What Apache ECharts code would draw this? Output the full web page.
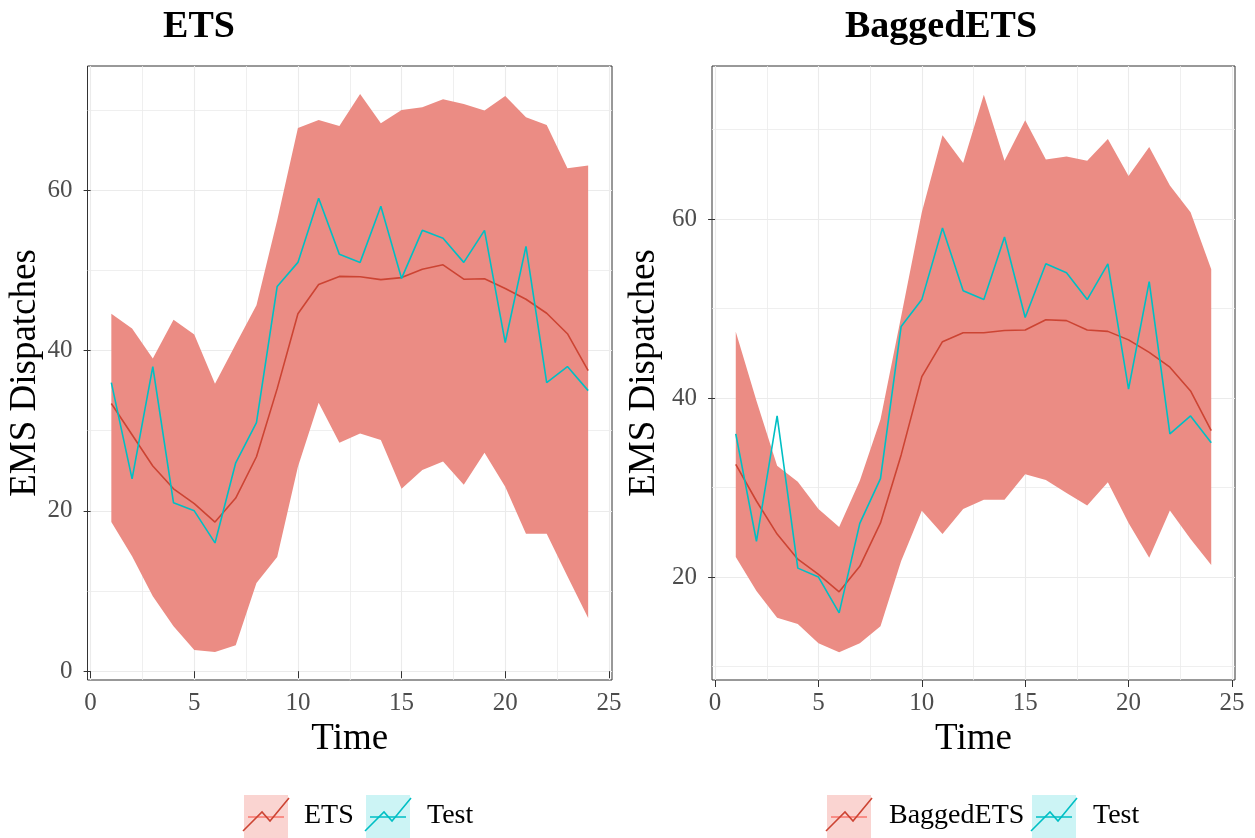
<!DOCTYPE html>
<html>
<head>
<meta charset="utf-8">
<script src="https://cdn.jsdelivr.net/npm/echarts@6/dist/echarts.min.js"></script>
<style>
  html, body { margin: 0; padding: 0; background: #fff; }
  #main { width: 1255px; height: 838px; }
</style>
</head>
<body>
<div id="main"></div>
<script>
// forecast horizon
var times = [1,2,3,4,5,6,7,8,9,10,11,12,13,14,15,16,17,18,19,20,21,22,23,24];

// observed test values (same in both panels)
var testVals = [36,24,38,21,20,16,26,31,48,51,59,52,51,58,49,55,54,51,55,41,53,36,38,35];

// ETS forecast + interval
var etsMean  = [33.4,29.5,25.6,22.75,20.9,18.6,21.6,26.75,35.25,44.6,48.25,49.25,49.2,48.85,49.1,50.15,50.7,48.9,48.95,47.75,46.4,44.65,42.1,37.5];
var etsLower = [18.6,14.35,9.35,5.6,2.65,2.4,3.25,11.0,14.25,25.5,33.5,28.5,29.65,28.85,22.75,25.1,26.15,23.25,27.25,23.0,17.15,17.15,11.85,6.65];
var etsUpper = [44.6,42.75,39.0,43.85,42.0,35.85,40.8,45.65,56.25,67.75,68.75,68.0,72.0,68.35,70.0,70.35,71.35,70.75,69.95,71.75,69.1,68.15,62.75,63.1];

// BaggedETS forecast + interval
var bagMean  = [32.6,28.5,24.8,22.0,20.3,18.35,21.2,26.05,33.65,42.4,46.3,47.3,47.3,47.55,47.6,48.75,48.65,47.6,47.45,46.5,45.1,43.45,40.8,36.35];
var bagLower = [22.25,18.45,15.45,14.75,12.6,11.6,12.6,14.5,21.8,27.4,24.8,27.6,28.65,28.65,31.5,30.85,29.4,28.0,30.6,26.05,22.15,27.45,24.25,21.35];
var bagUpper = [47.4,39.7,32.45,30.66,27.6,25.6,30.75,37.6,49.1,60.75,69.35,66.25,73.9,66.5,71.05,66.65,67.0,66.5,68.95,64.8,68.05,63.75,60.75,54.4];

// tick labels
var xTicks = [0,5,10,15,20,25];
var xMinor = [2.5,7.5,12.5,17.5,22.5];
var etsYTicks = [0,20,40,60];
var etsYMinor = [10,30,50,70];
var bagYTicks = [20,40,60];
var bagYMinor = [10,30,50,70];

var FONT = '"Liberation Serif", "DejaVu Serif", serif';
var BAND = '#EB8C84';
var MEAN = '#CC4433';
var TEST = '#00BFC4';
var GRIDC = '#EBEBEB';

var chart = echarts.init(document.getElementById('main'));

function majorX(gi) {
  return {
    type: 'value', gridIndex: gi, min: -0.15, max: 25.15,
    name: 'Time', nameLocation: 'middle', nameGap: 31,
    nameTextStyle: { fontFamily: FONT, fontSize: 37, color: '#000' },
    axisLine: { show: false },
    axisTick: { show: true, length: 7, customValues: xTicks, lineStyle: { color: '#333', width: 1 } },
    axisLabel: { customValues: xTicks, margin: 11, fontFamily: FONT, fontSize: 25, color: '#4D4D4D' },
    splitLine: { show: true, customValues: xTicks, lineStyle: { color: GRIDC, width: 1.1 } },
    z: 1
  };
}
function minorX(gi) {
  return {
    type: 'value', gridIndex: gi, min: -0.15, max: 25.15,
    axisLine: { show: false },
    axisTick: { show: false, customValues: xMinor },
    axisLabel: { show: false, customValues: xMinor },
    splitLine: { show: true, customValues: xMinor, lineStyle: { color: GRIDC, width: 0.8 } },
    z: 0
  };
}
function majorY(gi, lo, hi, ticks, gap) {
  return {
    type: 'value', gridIndex: gi, min: lo, max: hi,
    name: 'EMS Dispatches', nameLocation: 'middle', nameGap: gap,
    nameTextStyle: { fontFamily: FONT, fontSize: 37, color: '#000' },
    axisLine: { show: false },
    axisTick: { show: true, length: 7, customValues: ticks, lineStyle: { color: '#333', width: 1 } },
    axisLabel: { customValues: ticks, margin: 15, fontFamily: FONT, fontSize: 25, color: '#4D4D4D' },
    splitLine: { show: true, customValues: ticks, lineStyle: { color: GRIDC, width: 1.1 } },
    z: 1
  };
}
function minorY(gi, lo, hi, ticks) {
  return {
    type: 'value', gridIndex: gi, min: lo, max: hi,
    axisLine: { show: false },
    axisTick: { show: false, customValues: ticks },
    axisLabel: { show: false, customValues: ticks },
    splitLine: { show: true, customValues: ticks, lineStyle: { color: GRIDC, width: 0.8 } },
    z: 0
  };
}

function band(xi, yi, lower, upper) {
  return {
    type: 'custom', xAxisIndex: xi, yAxisIndex: yi, silent: true, clip: true, z: 2,
    data: times.map(function (t, i) { return [t, lower[i], upper[i]]; }),
    encode: { x: 0, y: [1, 2] },
    renderItem: function (params, api) {
      if (params.dataIndex !== 0) return;
      var pts = [];
      for (var i = 0; i < times.length; i++) pts.push(api.coord([times[i], upper[i]]));
      for (var j = times.length - 1; j >= 0; j--) pts.push(api.coord([times[j], lower[j]]));
      return { type: 'polygon', shape: { points: pts }, style: { fill: BAND } };
    }
  };
}
function line(xi, yi, vals, color, z) {
  return {
    type: 'line', xAxisIndex: xi, yAxisIndex: yi, z: z,
    data: times.map(function (t, i) { return [t, vals[i]]; }),
    showSymbol: false, silent: true, animation: false,
    lineStyle: { color: color, width: 1.6 }
  };
}

// legend keys (ggplot style boxes with zigzag)
function legendKey(x, y, fill, flat, zig, label, tx) {
  return [
    { type: 'rect', shape: { x: x, y: y, width: 44, height: 44 }, style: { fill: fill } },
    { type: 'line', shape: { x1: x + 4, y1: y + 22, x2: x + 40, y2: y + 22 }, style: { stroke: flat, lineWidth: 1.6 } },
    { type: 'polyline', shape: { points: [[x - 1, y + 36], [x + 18, y + 17], [x + 26, y + 26], [x + 45, y + 3]] },
      style: { stroke: zig, lineWidth: 1.6, fill: null } },
    { type: 'text', x: tx, y: y + 21, style: { text: label, font: '28px ' + FONT, fill: '#000', verticalAlign: 'middle' } }
  ];
}

var graphics = []
  .concat(legendKey(244, 795, '#FAD4D1', '#F8766D', MEAN, 'ETS', 304))
  .concat(legendKey(366, 795, '#CCF4F5', TEST, TEST, 'Test', 427))
  .concat(legendKey(827, 795, '#FAD4D1', '#F8766D', MEAN, 'BaggedETS', 889))
  .concat(legendKey(1032, 795, '#CCF4F5', TEST, TEST, 'Test', 1093));

var option = {
  animation: false,
  backgroundColor: '#fff',
  title: [
    { text: 'ETS', left: 194, top: 3, textAlign: 'center',
      textStyle: { fontFamily: FONT, fontSize: 38, fontWeight: 'bold', color: '#000' } },
    { text: 'BaggedETS', left: 936, top: 3, textAlign: 'center',
      textStyle: { fontFamily: FONT, fontSize: 38, fontWeight: 'bold', color: '#000' } }
  ],
  grid: [
    { left: 87.5, top: 66, width: 524.5, height: 614, show: true, borderColor: '#333', borderWidth: 1,
      backgroundColor: '#fff', outerBoundsMode: 'none' },
    { left: 712, top: 66, width: 523, height: 614, show: true, borderColor: '#333', borderWidth: 1,
      backgroundColor: '#fff', outerBoundsMode: 'none' }
  ],
  xAxis: [ majorX(0), minorX(0), majorX(1), minorX(1) ],
  yAxis: [
    majorY(0, -1.1, 75.5, etsYTicks, 44), minorY(0, -1.1, 75.5, etsYMinor),
    majorY(1, 8.5, 77.1, bagYTicks, 49), minorY(1, 8.5, 77.1, bagYMinor)
  ],
  series: [
    band(0, 0, etsLower, etsUpper),
    line(0, 0, etsMean, MEAN, 3),
    line(0, 0, testVals, TEST, 4),
    band(2, 2, bagLower, bagUpper),
    line(2, 2, bagMean, MEAN, 3),
    line(2, 2, testVals, TEST, 4)
  ],
  graphic: graphics
};

chart.setOption(option);
</script>
</body>
</html>
